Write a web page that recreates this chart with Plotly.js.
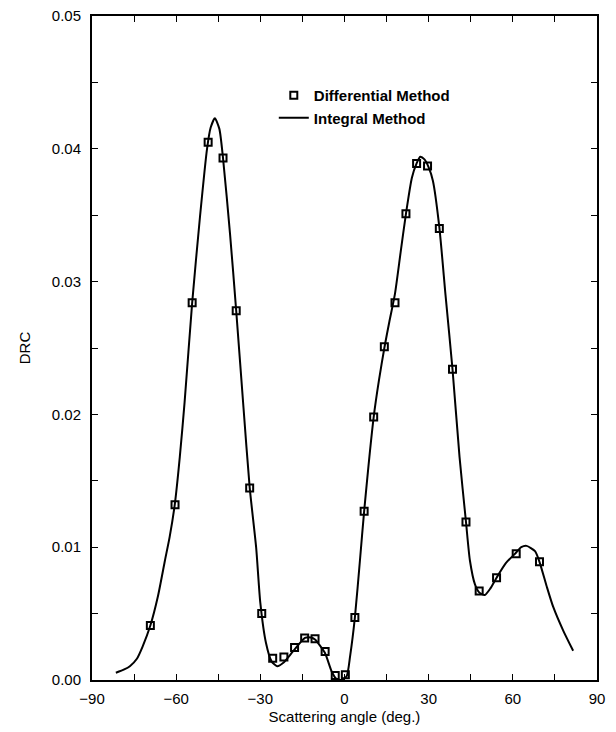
<!DOCTYPE html>
<html>
<head>
<meta charset="utf-8">
<script src="https://cdn.plot.ly/plotly-3.0.1.min.js"></script>
<style>html,body{margin:0;padding:0;background:#fff;}#chart{width:616px;height:732px;}</style>
</head>
<body>
<div id="chart"></div>
<script>
// Differential Method (markers)
const diffAngle = [-69.2,-60.4,-54.3,-48.6,-43.3,-38.6,-33.8,-29.5,-25.6,-21.6,-17.8,-14.2,-10.5,-6.9,-3.3,0.3,3.7,7.0,10.4,14.2,18.0,21.9,25.7,29.6,33.8,38.5,43.3,48.0,54.2,61.2,69.5];
const diffDRC = [0.0041,0.0132,0.0284,0.0405,0.0393,0.0278,0.01445,0.0050,0.00164,0.00174,0.00244,0.00317,0.0031,0.00214,0.00034,0.0004,0.0047,0.0127,0.0198,0.0251,0.0284,0.0351,0.0389,0.0387,0.0340,0.0234,0.0119,0.0067,0.0077,0.0095,0.0089];

// Integral Method (line)
const intAngle = [-81.5,-78.5,-76.5,-74,-72,-69.2,-66.5,-64,-62.3,-60.5,-58.7,-57,-54.3,-51.5,-49,-47.7,-46.2,-44.6,-43.3,-40.8,-38.6,-36,-33.8,-31.5,-30,-28,-26,-24,-21.8,-18.3,-14.1,-12,-10.5,-7,-4.6,-3,-1,0.8,2,3.7,5.5,7,10.4,12.3,14.2,16,18,20,21.9,24,25.7,27,28.5,30,31.5,33.8,36,38.5,41,43.3,44.7,46.5,48,50,52,54.2,57.5,61.2,63,64.9,67.9,69.5,72,74.4,78,81.5];
const intDRC = [0.00055,0.0008,0.00104,0.0016,0.0025,0.0041,0.0063,0.0090,0.0108,0.0132,0.0168,0.0209,0.0284,0.0349,0.0400,0.0416,0.0423,0.0415,0.0393,0.0336,0.0278,0.0205,0.0145,0.0100,0.0058,0.0028,0.0014,0.00104,0.0013,0.00217,0.00317,0.0032,0.00305,0.00205,0.00066,0.0001,0.0,0.0003,0.0018,0.0047,0.0090,0.0127,0.0198,0.0226,0.0250,0.0270,0.0291,0.0322,0.0351,0.0378,0.0389,0.0394,0.0392,0.0386,0.0376,0.0341,0.0290,0.0234,0.0168,0.0119,0.0090,0.0072,0.0066,0.0064,0.0069,0.0077,0.0088,0.0096,0.0100,0.0101,0.0097,0.0089,0.0071,0.0055,0.0037,0.0022];

const xTickVals = [-90,-75,-60,-45,-30,-15,0,15,30,45,60,75,90];
const xTickText = ["\u221290","","\u221260","","\u221230","","0","","30","","60","","90"];
const yTickVals = [0,0.005,0.01,0.015,0.02,0.025,0.03,0.035,0.04,0.045,0.05];
const yTickText = ["0.00","","0.01","","0.02","","0.03","","0.04","","0.05"];

const font = "Liberation Sans, Arial, Helvetica, sans-serif";

const traces = [
  {
    x: diffAngle, y: diffDRC, name: "Differential Method", type: "scatter", mode: "markers",
    marker: {symbol: "square-open", size: 7, color: "#000", line: {width: 2, color: "#000"}},
    cliponaxis: false
  },
  {
    x: intAngle, y: intDRC, name: "Integral Method", type: "scatter", mode: "lines",
    line: {color: "#000", width: 2, shape: "spline", smoothing: 0.6}
  }
];

const axisCommon = {
  showgrid: false, zeroline: false, showline: true, linecolor: "#000", linewidth: 2,
  mirror: "ticks", ticks: "inside", ticklen: 6, tickwidth: 1, tickcolor: "#000",
  tickmode: "array", tickfont: {family: font, size: 15, color: "#000"}
};

const layout = {
  width: 616, height: 732,
  margin: {l: 92, r: 19, t: 16, b: 52},
  paper_bgcolor: "#fff", plot_bgcolor: "#fff",
  font: {family: font, color: "#000"},
  showlegend: true,
  legend: {
    x: 0.36, y: 0.905, xanchor: "left", yanchor: "top",
    bgcolor: "rgba(0,0,0,0)", borderwidth: 0,
    font: {family: font, size: 15, color: "#000", weight: "bold"},
    itemwidth: 30
  },
  xaxis: Object.assign({}, axisCommon, {
    range: [-90, 90], tickvals: xTickVals, ticktext: xTickText, ticklabelstandoff: 4,
    title: {text: "Scattering angle (deg.)", font: {family: font, size: 15, color: "#000"}, standoff: 5}
  }),
  yaxis: Object.assign({}, axisCommon, {
    range: [0, 0.05], tickvals: yTickVals, ticktext: yTickText, ticklabelstandoff: 6,
    title: {text: "DRC", font: {family: font, size: 15, color: "#000"}, standoff: 18}
  })
};

Plotly.newPlot("chart", traces, layout, {displayModeBar: false, staticPlot: true});
</script>
</body>
</html>
